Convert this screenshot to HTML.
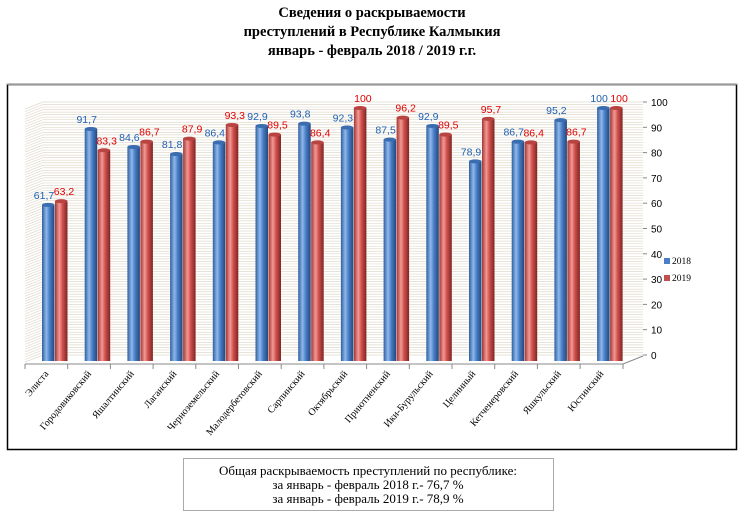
<!DOCTYPE html>
<html><head><meta charset="utf-8"><style>
body{margin:0;background:#fff;width:745px;height:525px;overflow:hidden;font-family:"Liberation Serif",serif}
</style></head><body>
<svg width="745" height="525" viewBox="0 0 745 525" xmlns="http://www.w3.org/2000/svg">
<defs>
<linearGradient id="gb" x1="0" x2="1" y1="0" y2="0">
<stop offset="0" stop-color="#2f5f9e"/><stop offset="0.35" stop-color="#8fb8ec"/><stop offset="0.6" stop-color="#4a7fc8"/><stop offset="1" stop-color="#23477a"/></linearGradient>
<linearGradient id="gr" x1="0" x2="1" y1="0" y2="0">
<stop offset="0" stop-color="#a33533"/><stop offset="0.35" stop-color="#f29a96"/><stop offset="0.6" stop-color="#d0504c"/><stop offset="1" stop-color="#7e2523"/></linearGradient>
</defs>
<g font-family="Liberation Serif,serif" font-weight="bold" font-size="14.5" text-anchor="middle" fill="#000">
<text x="372" y="17">Сведения о раскрываемости</text>
<text x="372" y="36">преступлений в  Республике Калмыкия</text>
<text x="372" y="55">январь - февраль 2018  /  2019 г.г.</text>
</g>
<rect x="7.5" y="84.5" width="729" height="365" fill="#fff" stroke="#000" stroke-width="1.5"/>
<line x1="7" y1="84.5" x2="737" y2="84.5" stroke="#999" stroke-width="1"/>
<g id="grid" stroke="#dfdacb" stroke-width="0.7"></g>
<g id="bars"></g>
<g id="axis" stroke="#888" stroke-width="1" fill="none"></g>
<g id="lbl" font-family="Liberation Sans,sans-serif" font-size="10.5"></g>
<g id="ax" font-family="Liberation Sans,sans-serif" font-size="10" fill="#000"></g>
<g id="cat" font-family="Liberation Serif,serif" font-size="10" fill="#000"></g>
<rect x="664" y="258" width="6" height="6" fill="#4a7fc8"/>
<text x="672" y="264" font-family="Liberation Serif,serif" font-size="9.5">2018</text>
<rect x="664" y="275" width="6" height="6" fill="#c0504d"/>
<text x="672" y="281" font-family="Liberation Serif,serif" font-size="9.5">2019</text>
<rect x="183.5" y="458.5" width="370" height="52" fill="#fff" stroke="#aaa"/>
<g font-family="Liberation Serif,serif" font-size="13" text-anchor="middle" fill="#000">
<text x="368" y="475">Общая раскрываемость преступлений  по республике:</text>
<text x="368" y="489">за январь - февраль 2018 г.- 76,7 %</text>
<text x="368" y="503">за январь - февраль 2019 г.- 78,9 %</text>
</g>
<script>
var ns="http://www.w3.org/2000/svg";
function el(p,t,a,txt){var e=document.createElementNS(ns,t);for(var k in a)e.setAttribute(k,a[k]);if(txt!==undefined)e.textContent=txt;document.getElementById(p).appendChild(e);return e;}
var y0=355,s=2.53;
for(var v=0;v<=100;v+=1){var y=y0-v*s;el("grid","line",{x1:43,y1:y,x2:643,y2:y});el("grid","line",{x1:25,y1:y+7,x2:43,y2:y});}
var names=["Элиста","Городовиковский","Яшалтинский","Лаганский","Черноземельский","Малодербетовский","Сарпинский","Октябрьский","Приютненский","Ики-Бурульский","Целинный","Кетченеровский","Яшкульский","Юстинский"];
var a=[61.7,91.7,84.6,81.8,86.4,92.9,93.8,92.3,87.5,92.9,78.9,86.7,95.2,100];
var b=[63.2,83.3,86.7,87.9,93.3,89.5,86.4,100,96.2,89.5,95.7,86.4,86.7,100];
var bb=361;
for(var i=0;i<14;i++){
 var x=25+42.7*i;
 [[a[i],x+17,"url(#gb)","#1f5fb0","#3a6cb0"],[b[i],x+30,"url(#gr)","#e00000","#b84340"]].forEach(function(d,j){
  var top=bb-d[0]*s,w=12.5;
  el("bars","rect",{x:d[1],y:top,width:w,height:bb-top,fill:d[2]});
  el("bars","ellipse",{cx:d[1]+w/2,cy:top,rx:w/2,ry:2,fill:d[4]});
  var t=(d[0]+"").replace(".",",");
  el("lbl","text",{x:d[1]+(j?9:2),y:top-6,"text-anchor":"middle",fill:d[3]},t);
 });
 el("axis","line",{x1:x,y1:364,x2:x,y2:369});
 el("cat","text",{transform:"translate("+(x+24)+",374) rotate(-50)","text-anchor":"end"},names[i]);
}
el("axis","line",{x1:25,y1:364,x2:623,y2:364});
el("axis","line",{x1:623,y1:364,x2:643,y2:356});
el("axis","line",{x1:623,y1:364,x2:623,y2:369});
for(var v=0;v<=100;v+=10){var y=y0-v*s;el("axis","line",{x1:643,y1:y,x2:647,y2:y});el("ax","text",{x:651,y:y+4},v);}
</script>
</svg>
</body></html>
